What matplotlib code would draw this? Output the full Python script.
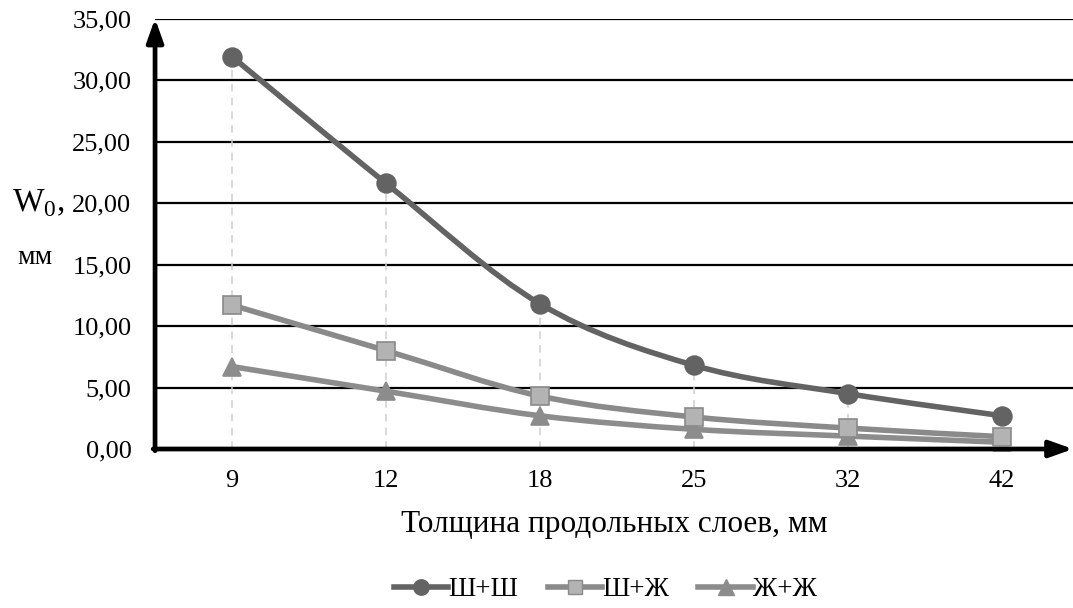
import numpy as np
import matplotlib.pyplot as plt
from matplotlib.path import Path
from matplotlib.patches import PathPatch
from matplotlib.lines import Line2D

plt.rcParams['font.family'] = ['Liberation Serif', 'DejaVu Serif']
plt.rcParams['mathtext.fontset'] = 'custom'
plt.rcParams['mathtext.rm'] = 'Liberation Serif'

categories = ['9', '12', '18', '25', '32', '42']
sh_sh = [31.9, 21.6, 11.8, 6.8, 4.5, 2.7]
sh_zh = [11.7, 8.0, 4.3, 2.6, 1.7, 1.0]
zh_zh = [6.7, 4.7, 2.7, 1.6, 1.05, 0.55]
series_names = ['Ш+Ш', 'Ш+Ж', 'Ж+Ж']
y_ticks = [0, 5, 10, 15, 20, 25, 30, 35]


def smooth_path(xs, ys, t=1 / 6):
    # catmull-rom style bezier through the points (like Excel "smoothed line")
    xs = np.asarray(xs, float)
    ys = np.asarray(ys, float)
    verts = [(xs[0], ys[0])]
    codes = [Path.MOVETO]
    n = len(xs)
    for i in range(n - 1):
        p0 = i - 1 if i > 0 else i
        p3 = i + 2 if i + 2 < n else i + 1
        c1 = (xs[i] + (xs[i + 1] - xs[p0]) * t, ys[i] + (ys[i + 1] - ys[p0]) * t)
        c2 = (xs[i + 1] - (xs[p3] - xs[i]) * t, ys[i + 1] - (ys[p3] - ys[i]) * t)
        verts += [c1, c2, (xs[i + 1], ys[i + 1])]
        codes += [Path.CURVE4] * 3
    return Path(verts, codes)


fig = plt.figure(figsize=(10.73, 6.08), dpi=100)
ax = fig.add_axes([0.1445, 0.2615, 0.8555, 0.708])

x = np.arange(len(categories))
ax.set_xlim(-0.5, 5.46)
ax.set_ylim(0, 35)

# drop lines
tops = np.max([sh_sh, sh_zh, zh_zh], axis=0)
ax.vlines(x, 0, tops, colors='#cfcfcf', linestyles=(0, (5, 4)), lw=1.1, zorder=1)

for yv in y_ticks[1:]:
    ax.axhline(yv, color='black', lw=1.6, zorder=0.5)

styles = [
    dict(color='#636363', marker='o', mfc='#636363', mec='#636363', ms=13.5),
    dict(color='#8a8a8a', marker='s', mfc='#b3b3b3', mec='#8a8a8a', ms=12.5),
    dict(color='#8c8c8c', marker='^', mfc='#8c8c8c', mec='#8c8c8c', ms=13.5),
]
handles = []
for vals, st, name, z in zip([sh_sh, sh_zh, zh_zh], styles, series_names, [4, 3, 2]):
    ax.add_patch(PathPatch(smooth_path(x, vals), fill=False, edgecolor=st['color'],
                           lw=4, capstyle='round', zorder=z))
    ax.plot(x, vals, ls='none', marker=st['marker'], ms=st['ms'], mfc=st['mfc'],
            mec=st['mec'], mew=1.2, zorder=z + 0.5, clip_on=False)
    handles.append(Line2D([], [], color=st['color'], lw=4, marker=st['marker'],
                          ms=st['ms'] * 0.82, mfc=st['mfc'], mec=st['mec'], label=name))

for s in ax.spines.values():
    s.set_visible(False)

# axis arrows
ax.annotate('', xy=(0, 1.0), xytext=(0, -0.004), xycoords='axes fraction',
            arrowprops=dict(arrowstyle='-|>,head_length=1.4,head_width=0.5',
                            color='black', lw=3.4, shrinkA=0, shrinkB=0))
ax.annotate('', xy=(1.0, 0), xytext=(-0.002, 0), xycoords='axes fraction',
            arrowprops=dict(arrowstyle='-|>,head_length=1.4,head_width=0.5',
                            color='black', lw=3.4, shrinkA=0, shrinkB=0))

ax.set_xticks(x)
ax.set_xticklabels(categories, fontsize=19)
ax.set_yticks(y_ticks)
ax.set_yticklabels([f'{v:.2f}'.replace('.', ',') for v in y_ticks], fontsize=19)
ax.tick_params(length=0)
ax.tick_params(axis='y', pad=17)
ax.tick_params(axis='x', pad=15)

ax.set_xlabel('Толщина продольных слоев, мм', fontsize=22.5, labelpad=13)

fig.text(0.036, 0.666, r'W$_{\mathregular{0}}$,', fontsize=24, ha='center', va='center')
fig.text(0.033, 0.577, 'мм', fontsize=20, ha='center', va='center')

fig.legend(handles=handles, loc='center', bbox_to_anchor=(0.564, 0.03), ncol=3,
           frameon=False, fontsize=19.5, handlelength=2.0, handletextpad=0.0,
           columnspacing=1.1)

fig.savefig('out.png', dpi=100)
